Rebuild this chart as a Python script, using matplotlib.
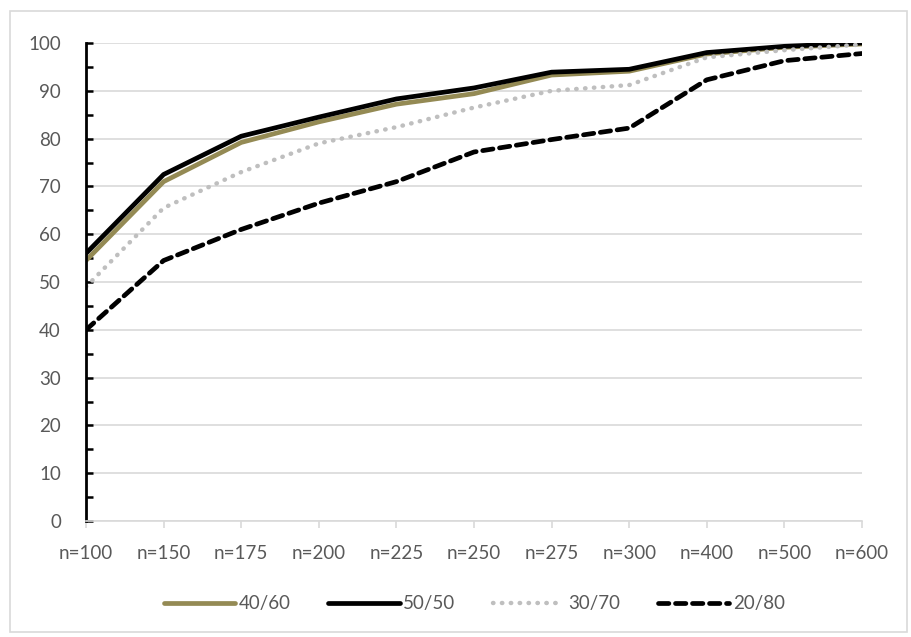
import matplotlib.pyplot as plt
from matplotlib.patches import Rectangle

plt.rcParams['font.family'] = ['Lato', 'DejaVu Sans']

labels = ['n=100', 'n=150', 'n=175', 'n=200', 'n=225', 'n=250',
          'n=275', 'n=300', 'n=400', 'n=500', 'n=600']
s40_60 = [54.5, 71.0, 79.2, 83.5, 87.2, 89.4, 93.3, 94.1, 97.7, 99.1, 99.8]
s50_50 = [56.0, 72.5, 80.5, 84.5, 88.3, 90.6, 93.9, 94.5, 98.0, 99.3, 100.0]
s30_70 = [49.0, 65.5, 73.0, 79.0, 82.4, 86.5, 90.0, 91.2, 97.0, 98.5, 99.7]
s20_80 = [40.0, 54.5, 61.0, 66.5, 71.0, 77.2, 79.8, 82.2, 92.3, 96.3, 97.8]

grey = '#595959'
x = list(range(len(labels)))

fig = plt.figure(figsize=(9.12, 6.37), dpi=100)
ax = fig.add_axes([0.0943, 0.182, 0.8509, 0.7505])

ax.plot(x, s40_60, color='#948A54', lw=3.4, solid_capstyle='round', label='40/60')
ax.plot(x, s50_50, color='black', lw=3.4, solid_capstyle='round', label='50/50')
ax.plot(x, s30_70, color='#BFBFBF', lw=3.2, linestyle=(0, (0.1, 1.9)),
        dash_capstyle='round', label='30/70')
ax.plot(x, s20_80, color='black', lw=3.4, linestyle=(0, (2.2, 1.4)),
        dash_capstyle='round', label='20/80')

ax.set_xlim(0, 10)
ax.set_ylim(0, 100)
ax.set_yticks(range(0, 101, 10))
ax.set_yticks(range(5, 100, 10), minor=True)
ax.set_xticks(x)
ax.set_xticklabels(labels)
ax.yaxis.grid(True, color='#D9D9D9', lw=1.2)
ax.set_axisbelow(True)

for side in ['top', 'right']:
    ax.spines[side].set_visible(False)
ax.spines['left'].set_color('black')
ax.spines['left'].set_linewidth(2)
ax.spines['bottom'].set_color('#D9D9D9')
ax.spines['bottom'].set_linewidth(1.2)

ax.tick_params(axis='y', which='both', direction='in', length=5, width=1.8,
               color='black', labelsize=13.5, labelcolor=grey, pad=18)
ax.tick_params(axis='x', direction='out', length=5, width=1.2,
               color='#D9D9D9', labelsize=13.5, labelcolor=grey, pad=12)

leg = fig.legend(loc='center', bbox_to_anchor=(0.52, 0.052), ncol=4,
                 frameon=False, fontsize=13.5, handlelength=3.8,
                 handletextpad=0.2, columnspacing=2.0)
for t in leg.get_texts():
    t.set_color(grey)

fig.patches.append(Rectangle((0.011, 0.008), 0.984, 0.975, transform=fig.transFigure,
                             fill=False, edgecolor='#D9D9D9', lw=1.2))

fig.savefig('out.png', dpi=100)
